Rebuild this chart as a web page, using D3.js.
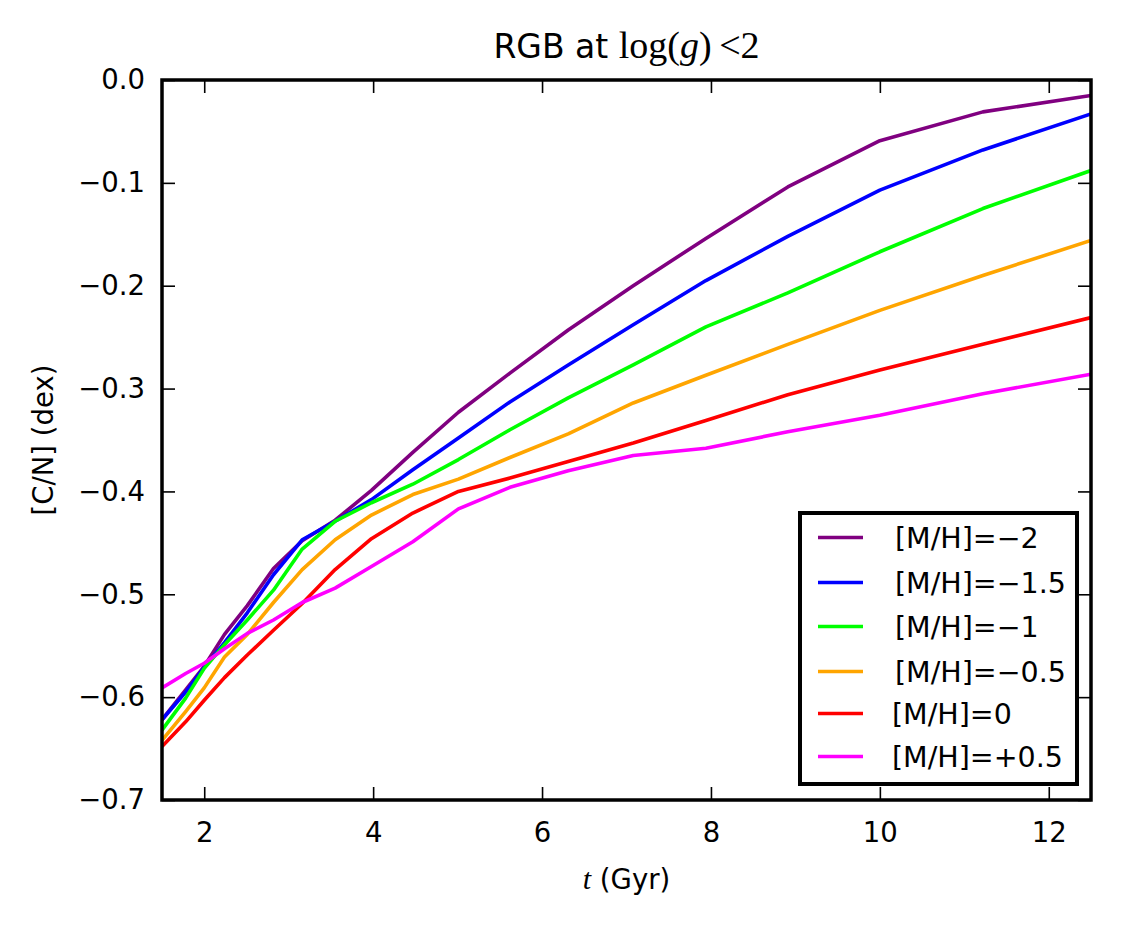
<!DOCTYPE html>
<html>
<head>
<meta charset="utf-8">
<script src="https://cdn.jsdelivr.net/npm/d3@7"></script>
<style>
  body { margin: 0; background: #fff; }
  text { font-family: "DejaVu Sans", sans-serif; fill: #000; }
</style>
</head>
<body>
<div id="chart-area"></div>
<script>
// ages in Gyr (log-spaced isochrone grid, clipped to 1.5 - 12.5)
const times = [1.5, 1.78, 2.0, 2.24, 2.51, 2.82, 3.16, 3.55, 3.98, 4.47, 5.01, 5.62, 6.31, 7.08, 7.94, 8.91, 10.0, 11.22, 12.5]

const mhMinus2 = [-0.622, -0.593, -0.570, -0.539, -0.511, -0.475, -0.448, -0.428, -0.399, -0.362, -0.323, -0.285, -0.243, -0.200, -0.154, -0.104, -0.059, -0.031, -0.015]
const mhMinus15 = [-0.622, -0.595, -0.571, -0.547, -0.518, -0.481, -0.447, -0.429, -0.408, -0.379, -0.348, -0.313, -0.277, -0.238, -0.195, -0.152, -0.107, -0.068, -0.033]
const mhMinus1 = [-0.632, -0.601, -0.572, -0.549, -0.525, -0.496, -0.456, -0.429, -0.411, -0.393, -0.369, -0.340, -0.309, -0.277, -0.240, -0.207, -0.167, -0.125, -0.088]
const mhMinus05 = [-0.642, -0.614, -0.591, -0.561, -0.539, -0.508, -0.476, -0.447, -0.423, -0.403, -0.388, -0.367, -0.344, -0.314, -0.287, -0.257, -0.224, -0.190, -0.156]
const mhZero = [-0.648, -0.624, -0.603, -0.581, -0.559, -0.535, -0.509, -0.476, -0.446, -0.421, -0.400, -0.387, -0.371, -0.353, -0.331, -0.306, -0.282, -0.257, -0.231]
const mhPlus05 = [-0.591, -0.577, -0.567, -0.553, -0.538, -0.525, -0.508, -0.494, -0.473, -0.449, -0.417, -0.396, -0.380, -0.365, -0.358, -0.342, -0.326, -0.305, -0.286]

const seriesLabels = ["[M/H]=\u22122", "[M/H]=\u22121.5", "[M/H]=\u22121", "[M/H]=\u22120.5", "[M/H]=0", "[M/H]=+0.5"]
const seriesValues = [mhMinus2, mhMinus15, mhMinus1, mhMinus05, mhZero, mhPlus05]
const seriesColors = ["#800080", "#0000ff", "#00ff00", "#ffa500", "#ff0000", "#ff00ff"]

const xTicks = [2, 4, 6, 8, 10, 12]
const yTicks = [0.0, -0.1, -0.2, -0.3, -0.4, -0.5, -0.6, -0.7]

let margin = {top: 80, right: 30, bottom: 127, left: 162}
let width = 1121 - margin.left - margin.right
let height = 927 - margin.top - margin.bottom

let svg = d3.select("#chart-area").append("svg")
  .attr("width", 1121)
  .attr("height", 927)

let group = svg.append("g")
  .attr("transform", "translate(" + margin.left + ", " + margin.top + ")")

let x = d3.scaleLinear().domain([1.5, 12.5]).range([0, width])
let y = d3.scaleLinear().domain([-0.7, 0.0]).range([height, 0])

svg.append("defs").append("clipPath")
  .attr("id", "plot-clip")
  .append("rect")
  .attr("width", width)
  .attr("height", height)

let fmt = d => (d < 0 ? "\u2212" : "") + Math.abs(d).toFixed(1)

// axes with inward ticks, mirrored on top and right
group.append("g")
  .attr("transform", "translate(0, " + height + ")")
  .call(d3.axisBottom(x).tickValues(xTicks).tickSize(-13).tickPadding(22).tickFormat(d => d))
group.append("g")
  .call(d3.axisTop(x).tickValues(xTicks).tickSize(-13).tickFormat(""))
group.append("g")
  .call(d3.axisLeft(y).tickValues(yTicks).tickSize(-13).tickPadding(17).tickFormat(fmt))
group.append("g")
  .attr("transform", "translate(" + width + ", 0)")
  .call(d3.axisRight(y).tickValues(yTicks).tickSize(-13).tickFormat(""))

group.selectAll(".domain").remove()
group.selectAll(".tick line").attr("stroke", "#000").attr("stroke-width", 1.6)
group.selectAll(".tick text")
  .attr("font-family", "DejaVu Sans")
  .attr("font-size", "27.5px")
  .attr("fill", "#000")

// lines
let line = d3.line()
  .x((d, i) => x(times[i]))
  .y(d => y(d))

group.append("g")
  .attr("clip-path", "url(#plot-clip)")
  .selectAll("path")
  .data(seriesValues)
  .enter()
  .append("path")
    .attr("d", d => line(d))
    .attr("fill", "none")
    .attr("stroke", (d, i) => seriesColors[i])
    .attr("stroke-width", 3.6)
    .attr("stroke-linejoin", "round")

// frame
group.append("rect")
  .attr("width", width)
  .attr("height", height)
  .attr("fill", "none")
  .attr("stroke", "#000")
  .attr("stroke-width", 3.5)

// title
let title = svg.append("text")
  .attr("x", margin.left + width / 2)
  .attr("y", 58)
  .attr("text-anchor", "middle")
  .attr("font-size", "33px")
title.append("tspan").text("RGB at ")
title.append("tspan").attr("font-family", "Liberation Serif").attr("font-size", "38px").text("log(")
title.append("tspan").attr("font-family", "Liberation Serif").attr("font-size", "38px").attr("font-style", "italic").text("g")
title.append("tspan").attr("font-family", "Liberation Serif").attr("font-size", "38px").text(")\u2009<2")

// x label
let xLabel = svg.append("text")
  .attr("x", margin.left + width / 2)
  .attr("y", 889)
  .attr("text-anchor", "middle")
  .attr("font-size", "27.5px")
xLabel.append("tspan").attr("font-family", "Liberation Serif").attr("font-style", "italic").attr("font-size", "30px").text("t")
xLabel.append("tspan").text(" (Gyr)")

// y label
svg.append("text")
  .attr("transform", "translate(53, " + (margin.top + height / 2) + ") rotate(-90)")
  .attr("text-anchor", "middle")
  .attr("font-size", "27.5px")
  .text("[C/N] (dex)")

// legend
let legend = svg.append("g")
legend.append("rect")
  .attr("x", 800)
  .attr("y", 513)
  .attr("width", 277)
  .attr("height", 271)
  .attr("fill", "#fff")
  .attr("stroke", "#000")
  .attr("stroke-width", 4)

let legendRows = [537.5, 582.5, 626.5, 671.5, 713.5, 756.5]
let legendTextX = [895, 895, 895, 895, 892, 892]

seriesLabels.forEach((label, i) => {
  legend.append("line")
    .attr("x1", 818).attr("x2", 863)
    .attr("y1", legendRows[i]).attr("y2", legendRows[i])
    .attr("stroke", seriesColors[i])
    .attr("stroke-width", 3.6)
  legend.append("text")
    .attr("x", legendTextX[i])
    .attr("y", legendRows[i] + 10)
    .attr("font-size", "28.5px")
    .text(label)
})
</script>
</body>
</html>
